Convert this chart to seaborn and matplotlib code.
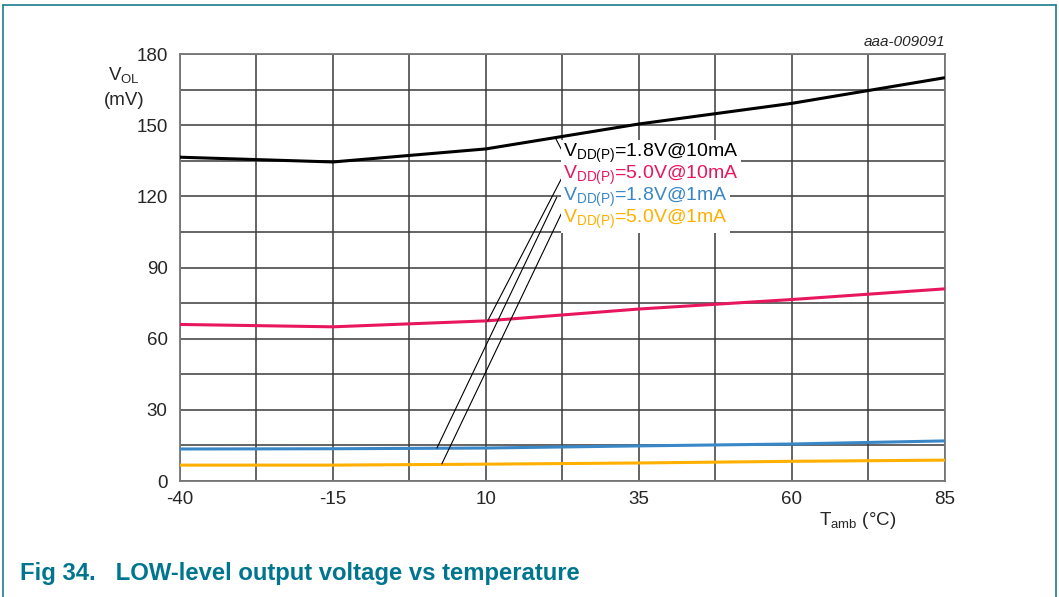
import numpy as np
import pandas as pd
import matplotlib.pyplot as plt
import seaborn as sns
from matplotlib.lines import Line2D

# data (mV vs degC)
temp = [-40, -15, 10, 35, 60, 85]
v18_10mA = [136.5, 134.5, 140.0, 150.5, 159.2, 170.0]
v50_10mA = [66.0, 65.0, 67.5, 72.5, 76.5, 81.0]
v18_1mA = [13.5, 13.6, 13.9, 14.8, 15.6, 16.9]
v50_1mA = [6.7, 6.7, 7.1, 7.6, 8.3, 8.8]

labels = [r'$\mathregular{V_{DD(P)}}$=1.8V@10mA',
          r'$\mathregular{V_{DD(P)}}$=5.0V@10mA',
          r'$\mathregular{V_{DD(P)}}$=1.8V@1mA',
          r'$\mathregular{V_{DD(P)}}$=5.0V@1mA']
colors = ['#000000', '#E8175D', '#3A87C8', '#FFB000']

# label anchor y and leader line ends (start at label, end on curve)
label_y = [138.0, 128.8, 119.5, 110.2]
leader_start = [(22.4, 139.5), (22.4, 127.7), (21.6, 119.7), (22.4, 113.0)]
leader_end = [(21.3, 145.0), (10.3, 67.5), (2.0, 13.9), (2.8, 7.2)]

df = pd.DataFrame({
    'temp': temp * 4,
    'vol': v18_10mA + v50_10mA + v18_1mA + v50_1mA,
    'series': sum([[l] * len(temp) for l in labels], []),
})

sns.set_style('white')
plt.rcParams['font.family'] = ['Liberation Sans', 'DejaVu Sans']
plt.rcParams['axes.unicode_minus'] = False

fig = plt.figure(figsize=(10.59, 5.97), dpi=100)
ax = fig.add_axes([0.170, 0.1943, 0.722, 0.7152])

sns.lineplot(data=df, x='temp', y='vol', hue='series', palette=colors,
             linewidth=2.2, legend=False, ax=ax, zorder=3)

ax.set_xlim(-40, 85)
ax.set_ylim(0, 180)
ax.set_xticks(np.arange(-40, 86, 25))
ax.set_yticks(np.arange(0, 181, 30))
ax.set_xticks(np.arange(-27.5, 85, 25), minor=True)
ax.set_yticks(np.arange(15, 180, 30), minor=True)
ax.grid(True, which='both', color='#3a3a3a', linewidth=1.1)
ax.tick_params(which='both', length=0, labelsize=13.5, pad=9)
ax.tick_params(axis='x', pad=7)
ax.set_xlabel('')
ax.set_ylabel('')
for s in ax.spines.values():
    s.set_color('#777777')
    s.set_linewidth(1.3)

# leader lines
for (x0, y0), (x1, y1) in zip(leader_start, leader_end):
    ax.plot([x0, x1], [y0, y1], color='black', linewidth=0.8, zorder=4)

# labels with white background
for lab, c, y in zip(labels, colors, label_y):
    ax.text(22.6, y, lab, color=c, fontsize=14, va='center', ha='left',
            zorder=5, bbox=dict(facecolor='white', edgecolor='none', pad=1.5))

fig.text(0.102, 0.875, r'$\mathregular{V_{OL}}$', fontsize=13.5, ha='left', va='center')
fig.text(0.098, 0.832, '(mV)', fontsize=13.5, ha='left', va='center')
fig.text(0.773, 0.128, r'$\mathregular{T_{amb}}$ (°C)', fontsize=13.5, ha='left', va='center')
fig.text(0.893, 0.929, 'aaa-009091', fontsize=11, style='italic', ha='right', va='center')

fig.text(0.019, 0.04, 'Fig 34.   LOW-level output voltage vs temperature',
         fontsize=17.2, fontweight='bold', color='#00758F', ha='left', va='center')

# teal frame round the figure
frame = '#1B7C8F'
fig.add_artist(Line2D([0.003, 0.997], [0.991, 0.991], color=frame, linewidth=1.2))
fig.add_artist(Line2D([0.003, 0.003], [0.0, 0.991], color=frame, linewidth=1.2))
fig.add_artist(Line2D([0.997, 0.997], [0.0, 0.991], color=frame, linewidth=1.2))

fig.savefig('out.png', dpi=100)
